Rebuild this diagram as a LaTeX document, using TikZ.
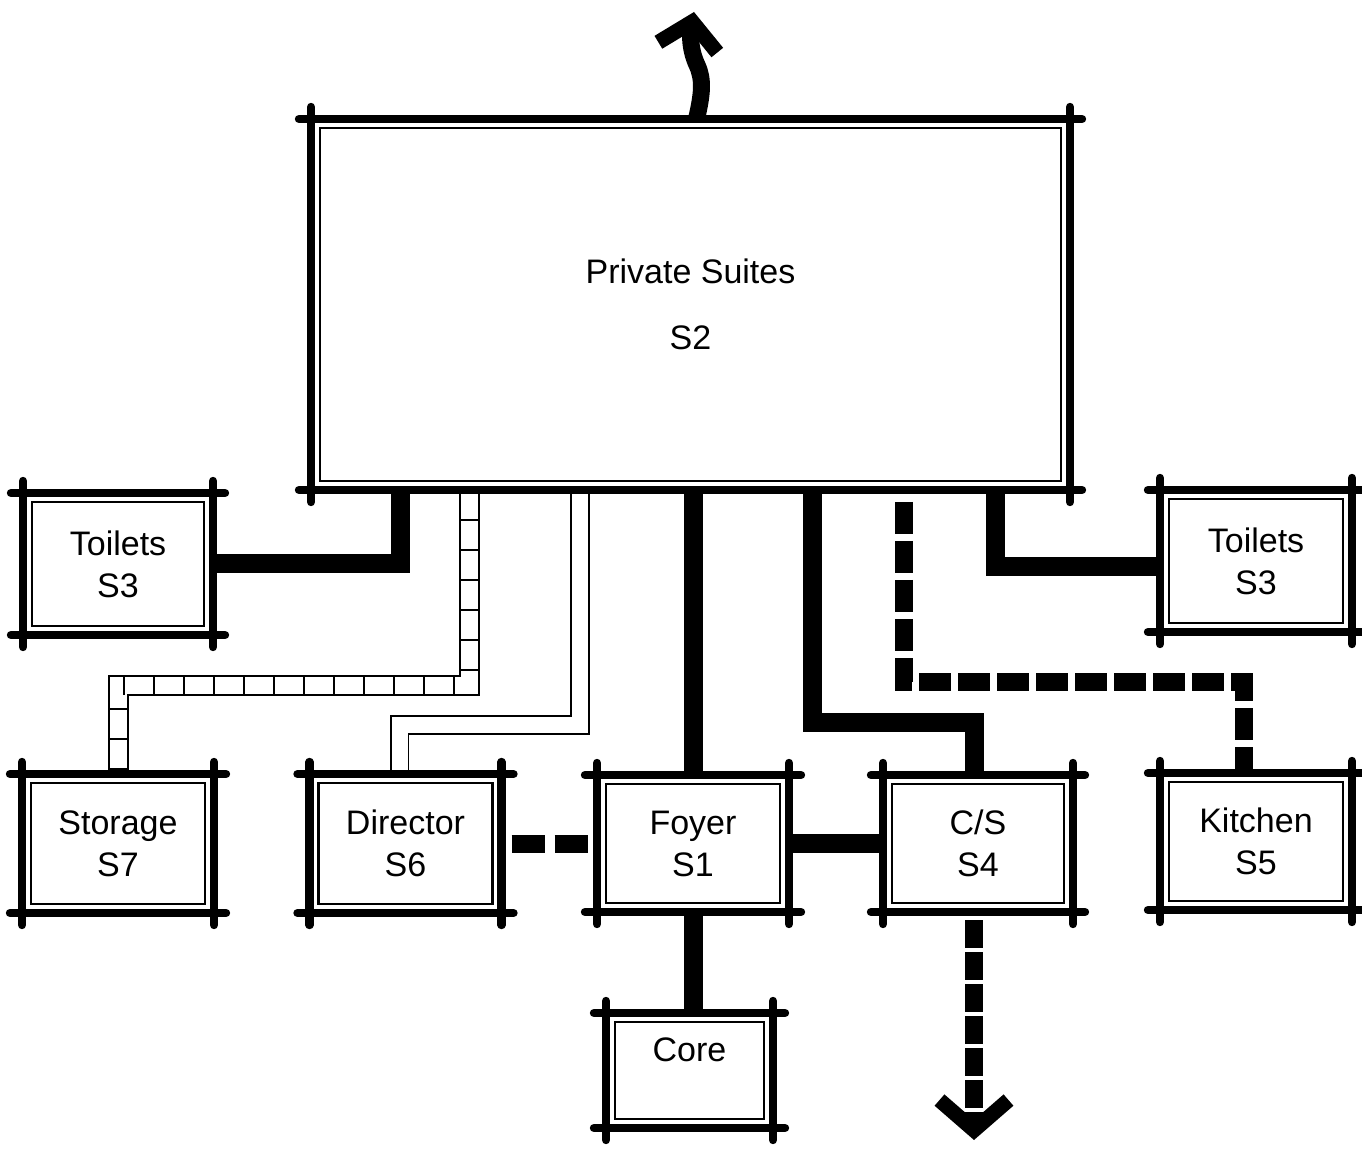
\documentclass[tikz,border=0pt]{standalone}
\usepackage{fontspec}
\setmainfont{Liberation Sans}
\usetikzlibrary{arrows.meta, decorations.pathreplacing}

\begin{document}
\begin{tikzpicture}[x=0.5pt, y=-0.5pt,
        room/.style={minimum width=96pt, minimum height=69.5pt, inner sep=0pt, outer sep=0pt,
            align=center, font=\fontsize{17}{21}\selectfont},
        frame/.style={line width=4.2pt, line cap=round},
        liner/.style={line width=1.2pt},
        wall/.style={line width=9.5pt},
        dashwall/.style={line width=9pt, dash pattern=on 16pt off 3.5pt},
        ladder/.style={line width=1pt, double distance=8.5pt,
            postaction={draw, line width=1.3pt, decorate,
                decoration={ticks, segment length=15pt, amplitude=4.75pt}}},
        twin/.style={line width=0.9pt, double distance=8pt},
        bigtip/.style={-{Straight Barb[length=#1, width=2.3*#1, line width=7.5pt]}}]
    \useasboundingbox (0,0) rectangle (1362,1150);
    % Rooms
    \node[room, minimum width=379.5pt, minimum height=185.5pt] (suites) at (690.5,304.5) {Private Suites\\[12pt]S2};
    \node[room, minimum width=95pt, minimum height=71pt] (toiletsL) at (118,564) {Toilets\\S3};
    \node[room, minimum height=71pt] (toiletsR) at (1256,561) {Toilets\\S3};
    \node[room] (storage) at (118,843.5) {Storage\\S7};
    \node[room] (director) at (405.5,843.5) {Director\\S6};
    \node[room, minimum height=68.5pt] (foyer) at (693,843.5) {Foyer\\S1};
    \node[room, minimum width=95pt, minimum height=68.5pt] (cs) at (978,843.5) {C/S\\S4};
    \node[room, minimum height=68.5pt] (kitchen) at (1256,841.5) {Kitchen\\S5};
    \node[room, minimum width=83.5pt, minimum height=57.5pt] (core) at (689.5,1070.5) {Core\\\mbox{}};
    % Links to the private suites
    \draw[wall] (toiletsL.east) -| ([xshift=44.5pt]suites.south west);
    \draw[ladder] ([xshift=79pt]suites.south west) |- ([yshift=44.5pt]storage.north) -- (storage.north);
    \draw[twin] ([xshift=134.5pt]suites.south west) |- ([shift={(-3pt,24.5pt)}]director.north) -- ([xshift=-3pt]director.north);
    \draw[wall] (foyer.north |- suites.south) -- (foyer.north);
    \draw[wall] ([xshift=250.5pt]suites.south west) |- ([shift={(-2pt,26.5pt)}]cs.north) -- ([xshift=-2pt]cs.north);
    \draw[wall] ([xshift=342pt]suites.south west) |- ([yshift=-3pt]toiletsR.west);
    \draw[dashwall, shorten <=6pt] ([xshift=296.5pt]suites.south west) |- ([shift={(-6pt,45.5pt)}]kitchen.north) -- ([xshift=-6pt]kitchen.north);
    % Links between the rooms
    \draw[dashwall, dash pattern=on 16.5pt off 5pt, dash phase=16.5pt] (director.east) -- (foyer.west);
    \draw[wall] (foyer.east) -- (cs.west);
    \draw[wall] (foyer.south) -- (foyer.south |- core.north);
    % Ways out
    \coordinate (exit) at (694,12);
    \coordinate (service) at ([shift={(-2pt,-114pt)}]cs.south);
    \draw[wall, line width=8.5pt, bigtip=13pt] ([xshift=3pt]suites.north) .. controls (702,95) and (704,80) .. (697,65)
        .. controls (690,50) and (690,35) .. (exit);
    \draw[dashwall, dash pattern=on 14pt off 2pt, shorten <=4pt, bigtip=15pt] ([xshift=-2pt]cs.south) -- (service);
    % Double frames with crossed corners
    \foreach \r in {suites, toiletsL, toiletsR, storage, director, foyer, cs, kitchen, core} {
        \draw[frame] ([xshift=-6pt]\r.north west) -- ([xshift=6pt]\r.north east)
            ([xshift=-6pt]\r.south west) -- ([xshift=6pt]\r.south east)
            ([yshift=6pt]\r.north west) -- ([yshift=-6pt]\r.south west)
            ([yshift=6pt]\r.north east) -- ([yshift=-6pt]\r.south east);
        \draw[liner] ([shift={(4.5pt,-4.5pt)}]\r.north west) rectangle ([shift={(-4.5pt,4.5pt)}]\r.south east);
    }
\end{tikzpicture}
\end{document}
